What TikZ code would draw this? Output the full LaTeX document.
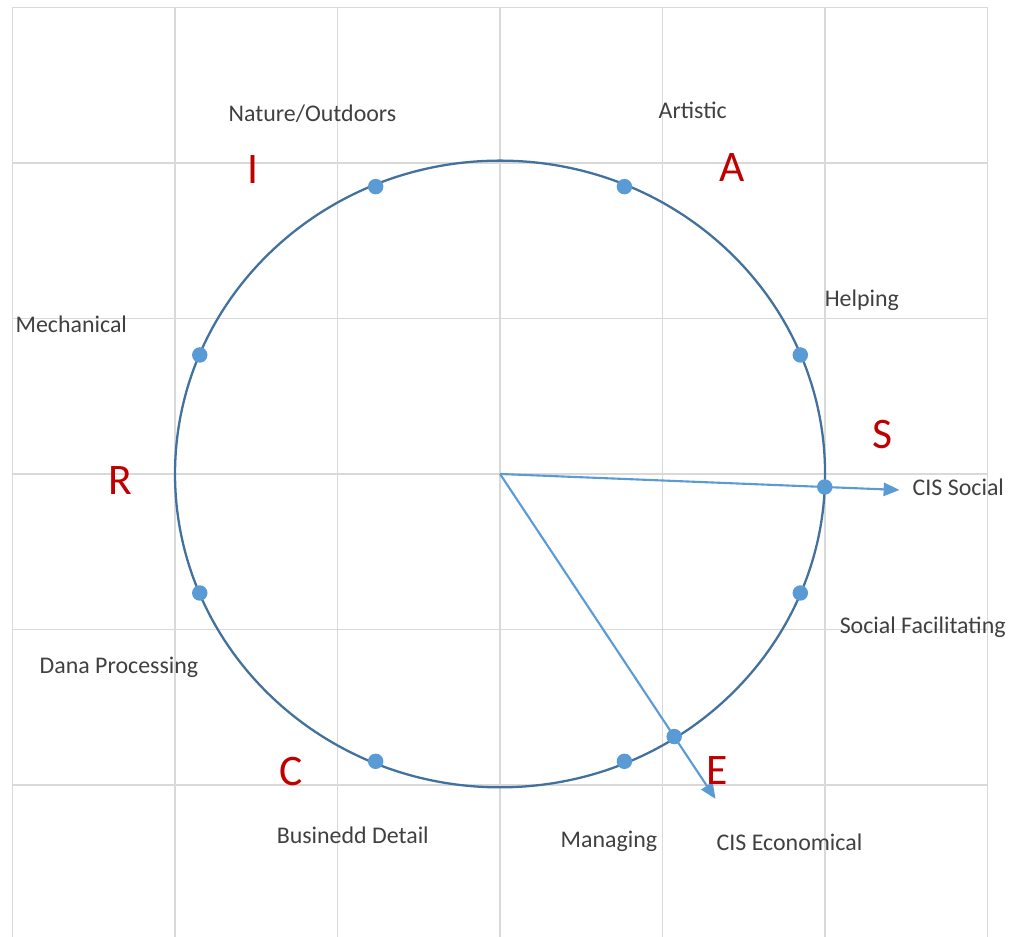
\documentclass[tikz,border=0pt]{standalone}
\usepackage{fontspec}
\setmainfont{Carlito}
\usetikzlibrary{arrows.meta,positioning}
\definecolor{gridgray}{RGB}{217,217,217}
\definecolor{ringblue}{RGB}{65,113,156}
\definecolor{dotblue}{RGB}{91,155,213}
\definecolor{labelgray}{RGB}{64,64,64}
\definecolor{codered}{RGB}{192,0,0}

\begin{document}
\begin{tikzpicture}[x=1.625cm,y=1.555cm,
		lbl/.style={text=labelgray,font=\fontsize{6.8}{8}\selectfont,inner sep=0pt,anchor=base west},
		code/.style={text=codered,font=\fontsize{12.4}{14}\selectfont,inner sep=0pt,anchor=base},
		dot/.style={circle,fill=dotblue,inner sep=0pt,minimum size=4.4pt},
		vec/.style={dotblue,line width=0.6pt,-{Triangle[length=4.5pt,width=3.8pt]}}]
		\useasboundingbox (-3.077,-2.977) rectangle (3.138,3.048);
		% grid
		\foreach \x in {-3,...,3}
		\draw[gridgray,line width=0.45pt] (\x,-2.977) -- (\x,3);
		\foreach \y in {-2,...,3}
		\draw[gridgray,line width=0.45pt] (-3,\y) -- (3,\y);
		
		\coordinate (O) at (0,0);
		\draw[ringblue,line width=0.65pt] (O) ellipse [x radius=2, y radius=2.015];
		\foreach \a in {22.5,67.5,...,337.5}
		\node[dot] (p\a) at (\a:2) {};
		
		% CIS vectors
		\coordinate (soc) at (-2.4:2.46);
		\coordinate (eco) at (-57.6:2.475);
		\draw[vec] (O) -- (soc);
		\draw[vec] (O) -- (eco);
		\node[dot] (cisS) at (-2.4:2) {};
		\node[dot] (cisE) at (-57.6:2) {};
		
		% letters
		\node[code] (R) at (-2.338,-0.129) {R};
		\node[code] (I) at (-1.520,1.871) {I};
		\node[code] (A) at (1.428,1.878) {A};
		\node[code] (S) at (2.351,0.161) {S};
		\node[code] (E) at (1.335,-1.994) {E};
		\node[code] (C) at (-1.286,-2.006) {C};
		
		% labels
		\node[lbl] (nat) at (-1.674,2.264) {Nature/Outdoors};
		\node[lbl] (art) at (0.972,2.289) {Artistic};
		\node[lbl] (hlp) at (1.994,1.074) {Helping};
		\node[lbl] (mec) at (-2.985,0.913) {Mechanical};
		\node[lbl] (cs) at (2.535,-0.141) {CIS Social};
		\node[lbl] (sf) at (2.086,-1.023) {Social Facilitating};
		\node[lbl] (dp) at (-2.837,-1.286) {Dana Processing};
		\node[lbl] (bd) at (-1.378,-2.373) {Businedd Detail};
		\node[lbl] (mg) at (0.369,-2.399) {Managing};
		\node[lbl] (ce) at (1.329,-2.424) {CIS Economical};
\end{tikzpicture}
\end{document}
